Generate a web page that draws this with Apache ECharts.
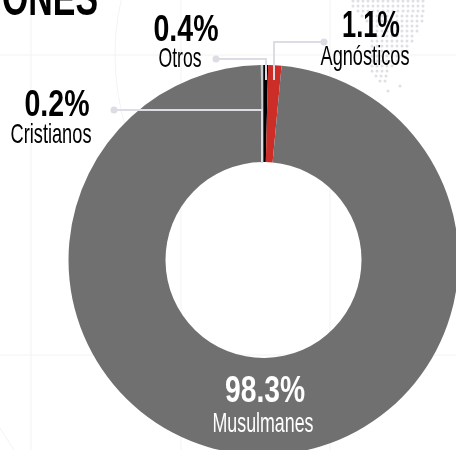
<!DOCTYPE html>
<html>
<head>
<meta charset="utf-8">
<style>
    html,body {margin:0;padding:0;background:#ffffff;}
    #chart {width:456px;height:450px;}
</style>
<script src="https://cdn.jsdelivr.net/npm/echarts@6/dist/echarts.min.js"></script>
</head>
<body>
<div id="chart"></div>
<script>
    // datos
    var categories = ['Cristianos', 'Otros', 'Agnósticos', 'Musulmanes'];
    var values = [0.2, 0.4, 1.1, 98.3];
    var colors = ['#c9c9ce', '#000000', '#cc2d27', '#707070'];

    // posicion de las etiquetas (centros)
    var valueX = [57, 186, 371, 265];
    var valueY = [106, 31, 27, 392];
    var nameX = [51, 180, 365, 263];
    var nameY = [135, 59, 57, 424];

    var font = '"Liberation Sans", sans-serif';
    var lineColor = '#dcdce4';
    var faint = '#f3f3f5';

    // lineas guia: [punto, esquina, fin]
    var leaders = [
        [[114, 110], [262, 110], [262, 163]],
        [[216, 59], [266, 59], [266, 80]],
        [[324, 42], [274, 42], [274, 80]]
    ];

    // filas del mapa de puntos del fondo: [y, x inicial, x final]
    var dotRows = [
        [1, 353, 425], [6, 353, 425], [11, 358, 425], [16, 362, 425],
        [21, 367, 425], [26, 372, 420], [31, 372, 420], [36, 372, 415],
        [41, 372, 415], [46, 372, 410], [51, 372, 410], [56, 372, 405],
        [61, 372, 400], [66, 372, 395], [71, 372, 388], [76, 376, 388],
        [81, 380, 388], [91, 388, 392]
    ];

    var graphics = [];

    // lineas tenues del fondo
    [31, 181, 330].forEach(function (x) {
        graphics.push({type: 'line', silent: true, z: -10, shape: {x1: x, y1: 0, x2: x, y2: 450}, style: {stroke: faint, lineWidth: 1}});
    });
    [55, 355].forEach(function (y) {
        graphics.push({type: 'line', silent: true, z: -10, shape: {x1: 0, y1: y, x2: 456, y2: y}, style: {stroke: faint, lineWidth: 1}});
    });
    graphics.push({type: 'arc', silent: true, z: -10, shape: {cx: 365, cy: 55, r: 250, startAngle: Math.PI * 0.8, endAngle: Math.PI * 1.2}, style: {fill: 'none', stroke: faint, lineWidth: 1}});
    graphics.push({type: 'line', silent: true, z: -10, shape: {x1: 0, y1: 428, x2: 14, y2: 450}, style: {stroke: faint, lineWidth: 1}});

    dotRows.forEach(function (row) {
        for (var x = row[1]; x <= row[2]; x += 5) {
            graphics.push({type: 'circle', silent: true, z: -5, shape: {cx: x, cy: row[0], r: 1.5}, style: {fill: '#dfdfe4'}});
        }
    });
    graphics.push({type: 'circle', silent: true, z: -5, shape: {cx: 400, cy: 86, r: 1.5}, style: {fill: '#dfdfe4'}});

    // texto condensado: la fuente original no esta, se estrecha con scaleX
    function addText(text, x, y, weight, size, width, color) {
        var probe = document.createElement('canvas').getContext('2d');
        probe.font = weight + ' ' + size + 'px ' + font;
        graphics.push({
            type: 'text',
            silent: true,
            z: 200,
            x: x,
            y: y,
            scaleX: width / probe.measureText(text).width,
            style: {text: text, fill: color, font: probe.font, textAlign: 'center', textVerticalAlign: 'middle'}
        });
    }

    // ancho de cada texto en la imagen
    var valueW = [65, 65, 58, 80];
    var nameW = [81, 43, 89, 101];
    categories.forEach(function (name, i) {
        var c = i === 3 ? '#ffffff' : '#000000';
        addText(values[i].toFixed(1) + '%', valueX[i], valueY[i], 'bold', 36, valueW[i], c);
        addText(name, nameX[i], nameY[i], 'normal', 28, nameW[i], c);
    });

    // pedazo del titulo, cortado por arriba
    addText('ONES', 50, 1, 'bold', 50, 96, '#000000');

    leaders.forEach(function (l) {
        graphics.push({type: 'polyline', silent: true, z: 100, shape: {points: l}, style: {fill: 'none', stroke: lineColor, lineWidth: 2}});
        graphics.push({type: 'circle', silent: true, z: 100, shape: {cx: l[0][0], cy: l[0][1], r: 3.5}, style: {fill: lineColor}});
    });

    var chart = echarts.init(document.getElementById('chart'), null, {renderer: 'canvas'});
    chart.setOption({
        animation: false,
        graphic: graphics,
        series: [{
            type: 'pie',
            z: 10,
            radius: [98, 195],
            center: [263.5, 260],
            startAngle: 90.8,
            clockwise: true,
            silent: true,
            label: {show: false},
            labelLine: {show: false},
            data: categories.map(function (name, i) {
                return {name: name, value: values[i], itemStyle: {color: colors[i]}};
            })
        }]
    });
</script>
</body>
</html>
